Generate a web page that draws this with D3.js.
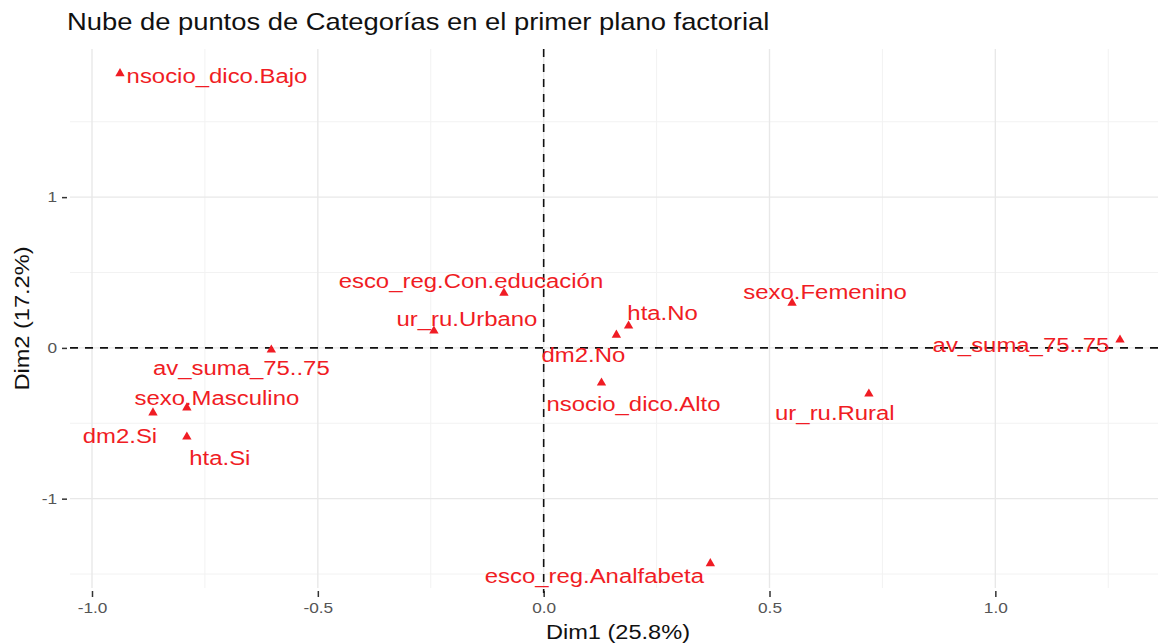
<!DOCTYPE html>
<html><head><meta charset="utf-8">
<script src="https://cdn.jsdelivr.net/npm/d3@7"></script>
<style>body{margin:0;background:#fff}svg{display:block;font-family:"Liberation Sans",Arial,sans-serif}</style>
</head><body>
<svg id="c" width="1158" height="643"></svg>
<script>
const categories = ["nsocio_dico.Bajo","esco_reg.Con.educación","ur_ru.Urbano","av_suma_75..75","sexo.Masculino","dm2.Si","hta.Si","dm2.No","hta.No","nsocio_dico.Alto","sexo.Femenino","av_suma_75..75","ur_ru.Rural","esco_reg.Analfabeta"];
const dim1 = [-0.938,-0.088,-0.243,-0.603,-0.790,-0.865,-0.790,0.161,0.188,0.128,0.550,1.276,0.720,0.369];
const dim2 = [1.820,0.364,0.113,-0.013,-0.397,-0.430,-0.590,0.086,0.146,-0.232,0.298,0.053,-0.305,-1.430];
const xTicks = [-1.0,-0.5,0.0,0.5,1.0];
const yTicks = [-1,0,1];
const title = "Nube de puntos de Categorías en el primer plano factorial";
const xTitle = "Dim1 (25.8%)", yTitle = "Dim2 (17.2%)";

const S = 1.15; // horizontal glyph stretch of the reference rendering
const svg = d3.select("#c");
const L=70,R=1170,T=49,B=588;
const ex = d3.extent(dim1), ey = d3.extent(dim2);
const px=(ex[1]-ex[0])*0.05, py=(ey[1]-ey[0])*0.05;
const x = d3.scaleLinear().domain([ex[0]-px, ex[1]+px]).range([L,R]);
const y = d3.scaleLinear().domain([ey[0]-py, ey[1]+py]).range([B,T]);

// grid
const minorX = [-0.75,-0.25,0.25,0.75,1.25], minorY=[-1.5,-0.5,0.5,1.5];
const g = svg.append("g");
g.selectAll(".mx").data(minorX).join("line").attr("x1",d=>x(d)).attr("x2",d=>x(d)).attr("y1",T).attr("y2",B).attr("stroke","#f2f2f2").attr("stroke-width",1);
g.selectAll(".my").data(minorY).join("line").attr("y1",d=>y(d)).attr("y2",d=>y(d)).attr("x1",L).attr("x2",R).attr("stroke","#f2f2f2").attr("stroke-width",1);
g.selectAll(".Mx").data(xTicks).join("line").attr("x1",d=>x(d)).attr("x2",d=>x(d)).attr("y1",T).attr("y2",B).attr("stroke","#e8e8e8").attr("stroke-width",1.4);
g.selectAll(".My").data(yTicks).join("line").attr("y1",d=>y(d)).attr("y2",d=>y(d)).attr("x1",L).attr("x2",R).attr("stroke","#e8e8e8").attr("stroke-width",1.4);

// axes
const xa = svg.append("g").attr("transform",`translate(0,${B+3})`)
  .call(d3.axisBottom(x).tickValues(xTicks).tickFormat(d3.format(".1f")).tickSize(6).tickPadding(5));
const ya = svg.append("g").attr("transform",`translate(${L-3},0)`)
  .call(d3.axisLeft(y).tickValues(yTicks).tickFormat(d3.format("d")).tickSize(5).tickPadding(5));
[xa,ya].forEach(a=>{a.select(".domain").remove();a.selectAll(".tick line").attr("stroke","#333").attr("stroke-width",1.5);});
xa.selectAll(".tick text").each(function(d){
  const t=d3.select(this); t.attr("fill","#555").attr("font-size",15).attr("font-family","Liberation Sans, Arial, sans-serif")
   .attr("transform",`translate(0,${+t.attr("y")}) scale(${S},1)`).attr("y",0).attr("dy","0.71em")
   .text(d3.format(".1f")(d).replace("−","-"));});
ya.selectAll(".tick text").each(function(d){
  const t=d3.select(this); t.attr("fill","#555").attr("font-size",15).attr("font-family","Liberation Sans, Arial, sans-serif")
   .attr("transform",`translate(${+t.attr("x")},0) scale(${S},1)`).attr("x",0)
   .text(String(d).replace("−","-"));});

// reference lines
svg.append("line").attr("x1",L).attr("x2",R).attr("y1",y(0)).attr("y2",y(0)).attr("stroke","#111").attr("stroke-width",1.6).attr("stroke-dasharray","8,7");
svg.append("line").attr("y1",T).attr("y2",B+5).attr("x1",x(0)).attr("x2",x(0)).attr("stroke","#111").attr("stroke-width",1.6).attr("stroke-dasharray","8,7");

// points
const pts = categories.map((c,i)=>({c,i,x:dim1[i],y:dim2[i]}));
svg.selectAll(".pt").data(pts).join("path")
  .attr("d",d3.symbol(d3.symbolTriangle,38))
  .attr("transform",d=>`translate(${x(d.x)},${y(d.y)})`).attr("fill","#f01c24");

// label offsets (pixels from point, to text center)
const off = [[97,3],[-33,-12],[33,-12],[-30,18],[30,-10],[-33,23],[33,21],[-33,20],[34,-13],[32,21],[33,-11],[-99,5],[-34,19],[-116,13]];
svg.selectAll(".lb").data(pts).join("text")
  .attr("transform",d=>`translate(${x(d.x)+off[d.i][0]},${y(d.y)+off[d.i][1]}) scale(${S},1)`)
  .attr("text-anchor","middle").attr("dominant-baseline","central")
  .attr("font-size",20.8).attr("fill","#f01c24").text(d=>d.c);

svg.append("text").attr("transform",`translate(67,30) scale(${S},1)`).attr("font-size",23.8).attr("fill","#111").text(title);
svg.append("text").attr("transform",`translate(${(L+R)/2-2},632) scale(${S},1)`).attr("text-anchor","middle").attr("dominant-baseline","central").attr("font-size",20.5).attr("fill","#111").text(xTitle);
svg.append("text").attr("transform",`translate(22,${(T+B)/2}) rotate(-90) scale(${S},1)`).attr("text-anchor","middle").attr("dominant-baseline","central").attr("font-size",20.5).attr("fill","#111").text(yTitle);
</script>
</body></html>
